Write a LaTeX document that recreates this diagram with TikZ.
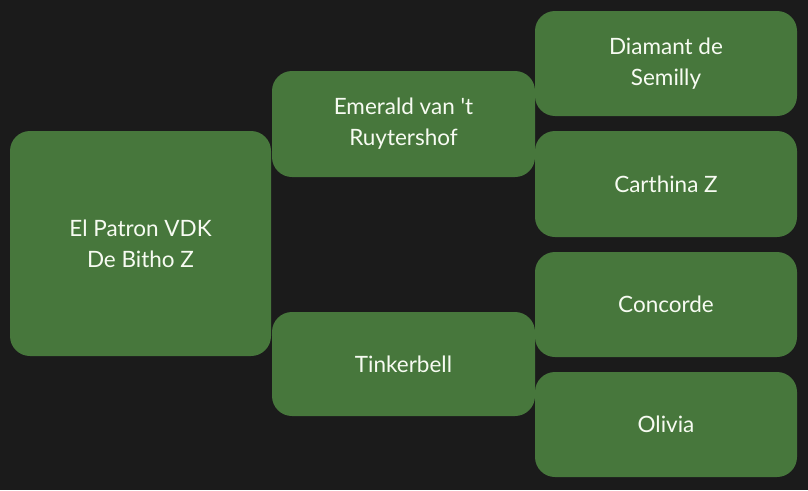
\documentclass[tikz,border=0pt]{standalone}
\usepackage{xcolor}
\usepackage{fontspec}
\setmainfont{Lato}[Ligatures=TeXOff]
\usepackage{tikz}
\usetikzlibrary{positioning}

\definecolor{pagebg}{HTML}{1B1B1B}
\definecolor{horsegreen}{HTML}{47773C}
\definecolor{horsetext}{HTML}{F7FBF2}

\tikzset{
    horse/.style={rectangle, rounded corners=20pt, fill=horsegreen, text=horsetext,
        inner sep=0pt, align=center, font=\fontsize{22.5}{31}\selectfont}
}

\begin{document}
\begin{tikzpicture}[x=1pt,y=-1pt]

\fill[pagebg] (0,0) rectangle (808,490);
\useasboundingbox (0,0) rectangle (808,490);

% generation 0
\node[horse, minimum width=261pt, minimum height=225pt] (sire) at (140.5,243.5) {El Patron VDK\\De Bitho Z};

% generation 1
\def\x{403.5}
\node[horse, minimum width=263pt, minimum height=106pt] (emerald) at (\x,124) {Emerald van 't\\Ruytershof};
\node[horse, minimum width=263pt, minimum height=104pt] (tinker) at (\x,364) {Tinkerbell};

% generation 2
\def\x{666}
\node[horse, minimum width=262pt, minimum height=105pt] (diamant) at (\x,63.5) {Diamant de\\Semilly};
\node[horse, minimum width=262pt, minimum height=106pt] (carthina) at (\x,184) {Carthina Z};
\node[horse, minimum width=262pt, minimum height=105pt] (concorde) at (\x,304.5) {Concorde};
\node[horse, minimum width=262pt, minimum height=105pt] (olivia) at (\x,424.5) {Olivia};

\end{tikzpicture}
\end{document}
